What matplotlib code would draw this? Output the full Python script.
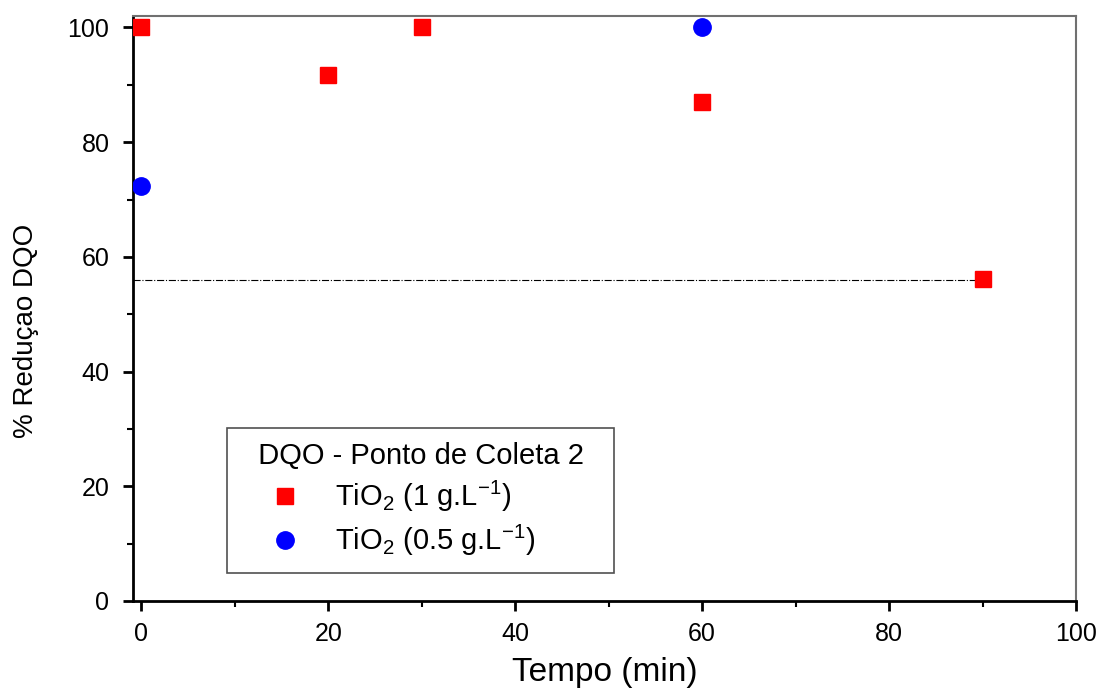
import matplotlib.pyplot as plt

plt.rcParams['font.family'] = ['Liberation Sans', 'DejaVu Sans']
plt.rcParams['mathtext.fontset'] = 'custom'
plt.rcParams['mathtext.rm'] = 'Liberation Sans'
plt.rcParams['mathtext.it'] = 'Liberation Sans:italic'
plt.rcParams['mathtext.bf'] = 'Liberation Sans:bold'

# TiO2 1 g/L
t_1g = [0, 20, 30, 60, 90]
red_1g = [100, 91.7, 100, 87.0, 56.1]
# TiO2 0.5 g/L
t_05g = [0, 60]
red_05g = [72.4, 100]
ref_level = 56.0

fig = plt.figure(figsize=(11.02, 6.88), dpi=100)
ax = fig.add_axes([0.1207, 0.1265, 0.8557, 0.8502])

ax.hlines(ref_level, -0.9, t_1g[-1], colors='black', linestyles='-.', linewidth=0.8, zorder=1)
ax.plot(t_1g, red_1g, 's', color='red', markersize=11, label='TiO$_2$ (1 g.L$^{-1}$)', zorder=3)
ax.plot(t_05g, red_05g, 'o', color='blue', markersize=12.5, label='TiO$_2$ (0.5 g.L$^{-1}$)', zorder=3)

ax.set_xlim(-0.9, 100)
ax.set_ylim(0, 102)
ax.set_xticks([0, 20, 40, 60, 80, 100])
ax.set_xticks([10, 30, 50, 70, 90], minor=True)
ax.set_yticks([0, 20, 40, 60, 80, 100])
ax.set_yticks([10, 30, 50, 70, 90], minor=True)

for s in ['left', 'bottom']:
    ax.spines[s].set_linewidth(2)
for s in ['top', 'right']:
    ax.spines[s].set_color('#707070')
    ax.spines[s].set_linewidth(1.5)
ax.tick_params(which='major', direction='out', length=7, width=2, labelsize=18, pad=8)
ax.tick_params(which='minor', direction='out', length=4, width=1.5)
ax.tick_params(axis='y', pad=10)

ax.set_xlabel('Tempo (min)', fontsize=24, labelpad=8)
ax.set_ylabel('% Reduçao DQO', fontsize=20)
ax.yaxis.set_label_coords(-0.10, 0.4615)

leg = ax.legend(title='  DQO - Ponto de Coleta 2  ', fontsize=21, title_fontsize=21,
                loc='lower left', bbox_to_anchor=(0.0997, 0.048), fancybox=False,
                edgecolor='#505050', framealpha=1, borderpad=0.5, labelspacing=0.3,
                handlelength=3.0, handletextpad=0.2, borderaxespad=0, alignment='left')
leg.get_frame().set_linewidth(1.2)

plt.savefig('out.png')
